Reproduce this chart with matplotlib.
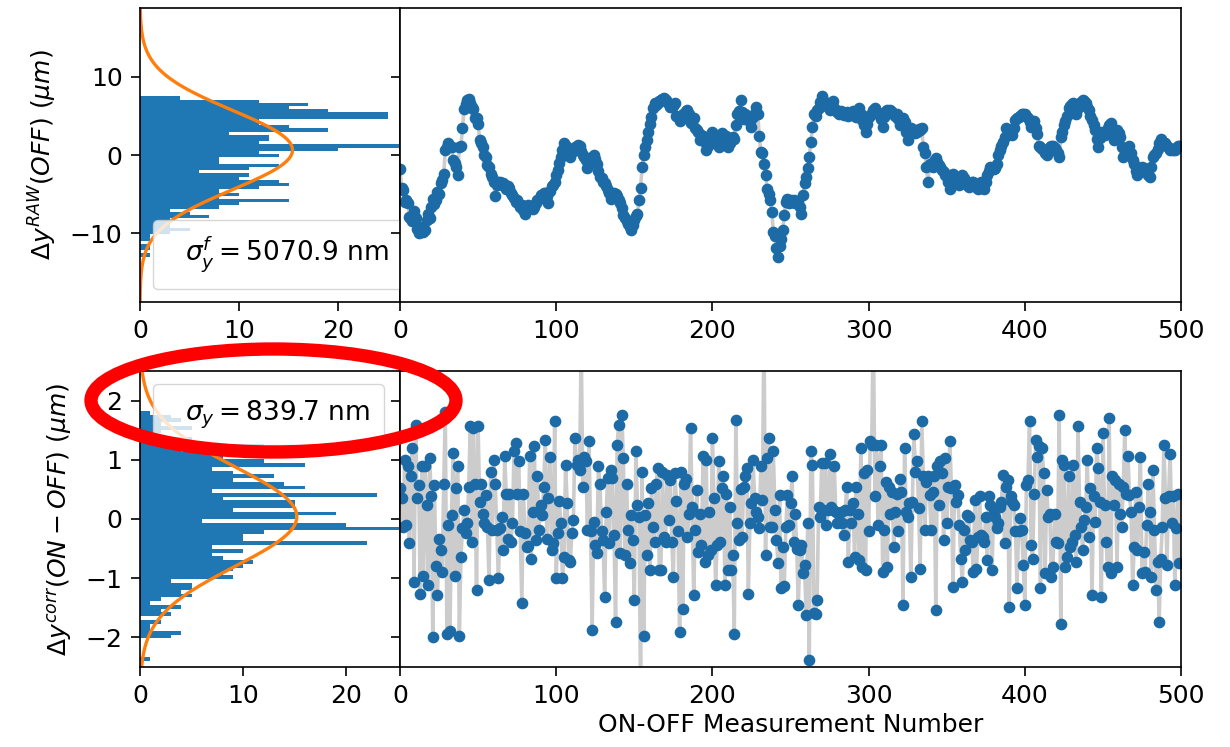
import numpy as np
import matplotlib.pyplot as plt
from matplotlib.patches import Ellipse

plt.rcParams["font.size"] = 18

# OFF position drift, raw (um)
dy_raw = [
    -1.8, -4.2, -4.5, -6.0, -5.8, -6.2, -7.9, -8.2, -8.5, -7.2,
    -8.0, -9.4, -10.0, -9.5, -9.2, -9.8, -9.6, -8.3, -7.5, -8.0,
    -6.6, -5.6, -6.3, -5.8, -4.7, -5.0, -3.6, -3.2, -2.4, 0.6,
    1.0, 1.5, 1.2, 1.0, -0.6, -1.0, -1.5, -2.5, 1.0, 1.2,
    3.4, 5.9, 6.5, 7.0, 7.2, 6.6, 6.2, 5.9, 4.7, 4.7,
    4.0, 1.9, 1.5, 1.0, 0.0, -0.3, -1.3, -1.5, -2.4, -2.8,
    -3.4, -5.3, -3.8, -3.4, -3.4, -3.9, -3.6, -3.8, -4.4, -4.0,
    -4.2, -4.8, -5.1, -5.5, -6.0, -5.8, -6.3, -6.6, -6.4, -7.0,
    -7.5, -6.8, -6.4, -6.7, -6.5, -6.9, -6.6, -6.2, -5.8, -5.6,
    -5.1, -5.3, -4.8, -4.9, -5.2, -6.2, -4.6, -4.0, -3.8, -3.4,
    -2.6, -1.9, -1.0, -0.2, 0.6, 1.5, 1.2, 0.9, 0.3, -0.2,
    0.4, 0.8, 1.0, 0.6, 1.3, 1.2, 0.5, 0.0, -0.3, -0.6,
    -1.7, -1.0, -0.6, -0.2, 0.0, -0.5, -1.1, -2.0, -2.8, -3.0,
    -3.4, -3.6, -4.0, -4.5, -4.8, -5.6, -5.2, -4.9, -5.0, -5.3,
    -5.8, -6.2, -6.8, -7.7, -8.0, -8.5, -8.8, -9.2, -9.6, -9.0,
    -8.3, -7.8, -7.5, -5.8, -4.2, -1.5, 0.0, 1.0, 1.9, 3.0,
    4.0, 4.9, 6.0, 6.6, 6.4, 6.6, 6.9, 7.0, 7.2, 7.3,
    7.0, 6.8, 6.5, 6.2, 6.4, 6.3, 6.6, 5.0, 4.8, 4.3,
    4.6, 5.3, 5.0, 5.6, 5.8, 5.2, 4.1, 4.3, 4.7, 3.5,
    3.2, 3.0, 1.9, 2.6, 2.4, 1.6, 0.6, 1.2, 1.5, 2.2,
    3.0, 2.5, 1.9, 1.4, 1.0, 2.0, 2.8, 2.5, 2.0, 2.4,
    1.0, 1.5, 1.9, 2.3, 2.1, 3.9, 5.2, 5.6, 7.0, 5.5,
    4.6, 5.3, 4.9, 4.7, 4.2, 3.6, 4.9, 5.4, 6.2, 5.3,
    2.4, 0.4, 0.3, -1.1, -2.5, -4.3, -5.0, -5.8, -7.3, -9.8,
    -10.4, -11.9, -13.0, -11.7, -10.8, -9.6, -7.7, -6.0, -5.6, -6.1,
    -5.8, -6.0, -5.7, -6.2, -5.9, -6.0, -6.6, -7.5, -5.1, -3.6,
    -2.8, -1.7, -0.2, 1.7, 3.6, 5.2, 5.0, 5.8, 6.0, 6.8,
    7.5, 7.0, 6.6, 6.4, 6.2, 5.7, 6.5, 6.9, 6.0, 5.8,
    5.5, 5.2, 5.6, 5.4, 5.1, 5.3, 5.5, 5.0, 5.4, 5.3,
    5.6, 5.0, 4.9, 5.5, 6.0, 5.3, 4.5, 3.8, 3.0, 4.0,
    4.8, 5.1, 5.3, 5.7, 6.0, 5.6, 5.4, 5.2, 4.6, 3.6,
    4.8, 5.6, 5.8, 5.4, 5.7, 5.5, 5.3, 5.0, 5.2, 4.6,
    3.9, 4.3, 4.7, 4.2, 3.0, 1.9, 2.8, 3.5, 3.2, 3.0,
    2.8, 3.0, 3.3, 3.2, 3.4, 1.0, 0.2, -1.5, -3.4, -1.1,
    -1.3, -1.5, -0.8, -0.4, -0.9, -1.3, -1.5, -1.9, -2.2, -2.5,
    -2.8, -3.5, -4.3, -3.0, -2.4, -3.0, -3.4, -3.6, -3.8, -3.1,
    -2.6, -3.0, -3.4, -3.8, -4.1, -3.7, -3.5, -3.4, -3.8, -4.1,
    -4.3, -3.8, -3.4, -3.9, -4.3, -3.5, -2.6, -2.0, -1.5, -1.6,
    -1.8, -1.7, -1.2, 0.0, 0.6, 1.2, 1.7, 2.3, 3.4, 3.1,
    3.0, 2.7, 2.5, 3.4, 4.5, 4.7, 4.9, 5.0, 5.2, 5.3,
    5.3, 5.0, 4.7, 4.2, 3.6, 4.0, 4.3, 3.5, 2.7, 1.2,
    1.0, 0.8, 0.6, 0.3, 0.0, 0.5, 1.0, 1.1, 1.2, 0.9,
    0.6, 0.2, -0.2, 2.3, 3.0, 3.9, 4.3, 5.0, 6.0, 6.3,
    6.5, 6.6, 6.0, 5.3, 6.0, 6.6, 6.8, 7.0, 6.9, 6.6,
    6.2, 5.8, 5.0, 4.5, 3.8, 3.2, 2.0, 1.0, 2.2, 3.0,
    2.8, 2.5, 3.0, 3.4, 3.8, 4.1, 3.0, 1.9, 2.6, 3.2,
    2.8, 2.3, 1.0, -0.2, 0.2, 0.6, 0.9, 1.2, 0.3, -0.6,
    -1.2, -2.0, -2.6, -2.2, -1.8, -1.5, -1.6, -1.9, -2.1, -2.5,
    -2.8, -1.5, -0.2, 0.0, 0.2, 0.8, 1.5, 2.1, 1.8, 1.5,
    1.5, 1.2, 0.9, 0.7, 0.8, 0.6, 0.6, 0.9, 1.1, 1.2,
]

# ON-OFF difference after correction (um)
dy_corr = [
    0.52, 0.35, -0.13, 1.0, -0.1, 0.89, -0.41, 0.72, 1.2, -1.06,
    1.59, 0.35, 0.57, -1.26, 0.89, -0.96, 0.89, 0.24, -1.12, 1.03,
    0.38, -2.0, 0.57, -0.8, -1.29, -0.33, -0.53, -0.9, 0.59, 1.8,
    -1.95, -0.1, -1.9, 0.06, 1.12, -0.96, 0.52, 0.89, -1.97, -0.64,
    -0.16, 0.15, -0.24, -0.07, 0.54, 1.57, -0.39, 1.54, 0.59, -1.2,
    1.57, 0.29, 0.59, 0.09, -0.07, 0.4, -0.13, -1.03, 0.79, -0.19,
    1.0, 0.59, -0.19, -1.0, -0.16, 0.04, -0.53, 1.07, 0.43, -0.33,
    0.43, -0.39, -0.07, 1.14, 1.28, 0.43, 0.98, -0.2, -1.42, 0.43,
    -0.24, -0.47, -0.45, 1.07, -0.67, 0.12, 1.23, -0.36, 0.72, -0.19,
    0.24, 0.06, 0.54, 1.34, -0.33, 0.35, 1.05, -0.53, -0.41, 1.65,
    -0.99, -0.24, 0.3, -0.07, -1.0, -0.64, 0.91, 0.27, -0.7, -0.73,
    -0.24, -0.02, 1.37, 0.91, 1.0, 0.83, 3.0, 0.54, 1.05, 0.98,
    -0.19, 1.31, -0.2, -1.88, -0.05, -0.44, -0.58, 0.89, 0.59, -0.2,
    -0.36, -1.32, 0.12, 0.7, -0.41, 0.83, 0.69, -0.27, -1.74, 1.25,
    1.59, -0.58, 1.75, 1.03, -0.61, 0.59, -0.19, -0.75, 0.06, -0.36,
    -1.37, 1.14, 0.24, 0.04, -2.9, 0.79, -1.97, 0.06, -0.61, 0.27,
    -0.86, 0.52, -0.13, -0.39, 0.59, 0.86, -0.86,
    -0.86, 0.8, -0.3, -0.39, 0.74, -0.02, 0.66, -0.39, -0.98, 0.77,
    0.3, -0.2, -1.91, 0.8, -1.52, 0.59, 0.68, -0.3, 0.09, 1.54,
    0.21, -1.29, -0.19, 0.49, -0.55, 0.09, -0.44, 1.07, -0.72, 1.0,
    -0.6, 0.12, -0.53, 1.37, 0.35, -1.12, -0.44, 0.98, -0.39, 0.52,
    0.72, -1.12, 0.43, -0.86, 0.21, -0.86, -0.61, -1.94, 1.68, -0.07,
    -0.36, 0.5, -0.3, 0.54, 0.72, 0.86, -1.26, -0.07, 0.27, 1.0,
    0.35, 0.12, 0.04, -0.16, 0.89, 0.32, 3.3, -0.61, 1.03, 1.37,
    -0.13, -0.13, 1.14, 0.15, -0.36, -0.75, 0.4, -1.17, -0.47, -1.14,
    -0.13, 0.4, -0.1, 0.27, 0.72, -0.39, 0.09, -0.5, -1.46, -0.53,
    -0.44, -0.92, -0.78, -1.63, -0.07, -2.39, 1.14, 0.91, -1.58, -1.61,
    -1.37, 0.21, 0.04, 0.94, 0.15, 0.94, -0.1, 0.15, 1.1, 0.21,
    0.15, 0.89, 0.12, -0.07, -0.05, 0.12, -0.07, -0.27, 0.15, 0.54,
    -0.72, 0.15, -0.07, 0.27, -0.64, 0.54, 0.09, -0.7, 1.2, -0.81,
    0.77, -0.86, 0.83, -0.2, 1.31, 1.25, 3.4, 0.38, 1.25, -0.1,
    0.89, 1.25, -0.9, -0.19, 0.63, -0.81, 0.54, 0.09, 0.46, -0.47,
    0.12, 0.43, -0.2, 0.68, 0.46, -1.46, 1.2, 0.12, 0.04, 0.27,
    -0.98, 0.29, 1.43, 0.8, 0.98, 0.18, -0.84, 1.65, 0.72, -0.19,
    0.63,
    0.72, 0.4, -0.19, 0.46, 0.72, -1.54, 0.89, 0.24, 0.98, 0.77,
    -0.36, 1.03, -0.07, 0.54, 1.31, 0.52, -1.15, 0.57, 0.29, 0.4,
    -0.1, -0.67, -1.06, -0.19, -0.53, 0.06, 0.04, -0.36, -0.39, -0.9,
    0.32, -0.84, -0.3, 0.38, -0.27, -0.3, -0.39, 0.04, -0.7, 0.38,
    0.24, -0.86, 0.15, 0.04, -0.16, -0.07, 0.2, 0.29, 0.74, -0.41,
    0.54, 0.66, -1.49, 0.38, 0.29, 0.24, -0.2, -1.17, -0.2, 0.01,
    -0.19, -0.78, -1.46, 0.57, 0.66, 1.65, -0.44, -0.67, 0.43, 1.34,
    1.05, 1.23, -1.17, 1.2, 0.77, -0.92, 0.49, 0.04, 0.09, -0.98,
    -0.81, 0.09, -0.39, -0.41, 1.75, -1.77, 1.0, 0.91, -0.81, -0.64,
    0.72, -0.47, -0.39, 0.91, -0.27, -0.72, 1.57, 0.29, -0.13, -0.53,
    -0.02, 0.21, 1.0, -0.3, 0.52, -1.29, 0.38, -0.05, 1.2, 0.86,
    0.29, -1.32, 1.46, 0.24, -0.39, -0.81, 1.71, -0.92, 0.72, 0.24,
    0.66, -0.81, 0.59, 0.09, -0.13, 0.54, 1.51, 0.43, 1.07, 0.4,
    0.12, -1.12, -0.47, 0.45, -0.53, 0.21, 1.05, -0.92, -0.55, -0.9,
    -0.1, 0.59, 0.12, -0.98, 0.83, -0.19, -1.2, -0.72, -1.74, -0.67,
    -0.13, 1.25, 0.35, -0.77, 0.38, 1.1, -0.07, 0.38, -1.12, -0.16,
    0.43, -0.75,
]

assert len(dy_raw) == 500 and len(dy_corr) == 500, (len(dy_raw), len(dy_corr))

# gaussian fit results (um); sigma is quoted in nm in the legends
raw_sigma_nm = 5070.9
raw_mu, raw_amp = 0.64, 15.4
corr_sigma_nm = 839.7
corr_mu, corr_amp = 0.04, 15.2

n_meas = np.arange(len(dy_raw))


def gauss(y, amp, mu, sigma):
    return amp * np.exp(-0.5 * ((y - mu) / sigma) ** 2)


fig = plt.figure(figsize=(12.3, 7.47), dpi=100)

rows = [
    (dy_raw, raw_mu, raw_amp, raw_sigma_nm, 18.8, 50, 26.25,
     r"$\sigma_y^f = 5070.9$ nm", "lower left",
     r"$\Delta y^{RAW}(OFF)$ ($\mu m$)", 0.5957, 0.3936),
    (dy_corr, corr_mu, corr_amp, corr_sigma_nm, 2.5, 100, 25.2,
     r"$\sigma_y = 839.7$ nm", "upper left",
     r"$\Delta y^{corr}(ON-OFF)$ ($\mu m$)", 0.1071, 0.3963),
]

for data, mu, amp, sig_nm, ylim, nbins, xmax, leg, loc, ylab, bottom, height in rows:
    # histogram on the left
    ax_h = fig.add_axes([0.1138, bottom, 0.2114, height])
    ax_h.hist(data, bins=nbins, orientation="horizontal", color="C0")
    yy = np.linspace(-ylim, ylim, 400)
    ax_h.plot(gauss(yy, amp, mu, sig_nm / 1000.0), yy, color="C1", lw=2.4,
              label=leg)
    ax_h.set_ylim(-ylim, ylim)
    ax_h.set_xlim(0, xmax)
    ax_h.set_xticks([0, 10, 20])
    ax_h.set_ylabel(ylab, labelpad=8)
    lg = ax_h.legend(loc=loc, handlelength=0, handletextpad=0.65,
                     borderaxespad=0.5, borderpad=0.55, fontsize=19)
    for h in lg.legend_handles:
        h.set_visible(False)

    # measurement series on the right
    ax_t = fig.add_axes([0.3252, bottom, 0.635, height])
    ax_t.plot(n_meas, data, color="#cccccc", lw=2.6, zorder=1)
    ax_t.plot(n_meas, data, "o", color="#1c6ba6", ms=7.4, zorder=2)
    ax_t.set_xlim(0, 500)
    ax_t.set_yticks(ax_h.get_yticks())
    ax_t.set_ylim(-ylim, ylim)
    ax_t.tick_params(axis="y", labelleft=False)

    for a in (ax_h, ax_t):
        a.tick_params(length=6.5, width=1.2, pad=6)
        for s in a.spines.values():
            s.set_linewidth(1.2)

ax_t.set_xlabel("ON-OFF Measurement Number", labelpad=3)

# red ring around the corrected sigma
ring = Ellipse((273.5 / 1230, 1 - 400.5 / 747), 365 / 1230, 103 / 747,
               transform=fig.transFigure, fill=False, edgecolor="red",
               lw=9.6, zorder=10, clip_on=False)
fig.add_artist(ring)

fig.savefig("out.png", dpi=100)
